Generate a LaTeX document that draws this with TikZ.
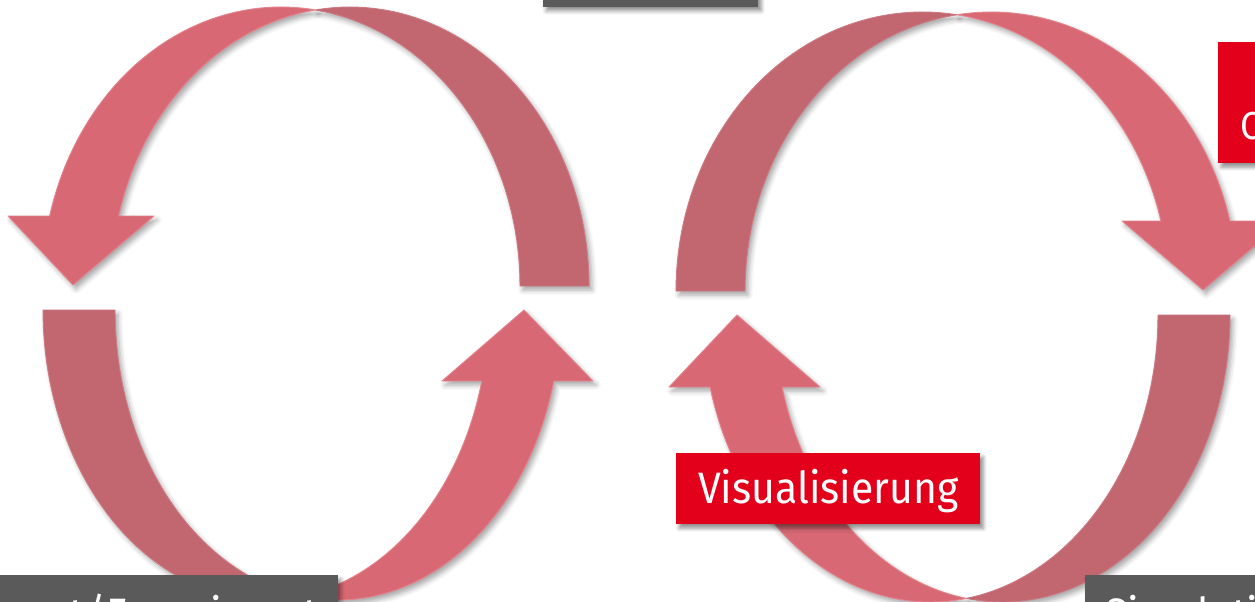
\documentclass[tikz,border=0pt]{standalone}
\usepackage{fontspec}
\setmainfont{Fira Sans}[FakeStretch=0.93]
\usetikzlibrary{shadows.blur}
\definecolor{arrowlight}{HTML}{D86874}
\definecolor{arrowlightedge}{HTML}{E3848E}
\definecolor{arrowdark}{HTML}{C26670}
\definecolor{arrowdarkedge}{HTML}{CD7A84}
\definecolor{boxred}{HTML}{E2001A}
\definecolor{boxgray}{HTML}{5A5A5A}
\begin{document}
\begin{tikzpicture}[x=1pt,y=-1pt,
  arrowshadow/.style={blur shadow={shadow xshift=3pt, shadow yshift=-4pt, shadow blur radius=5pt, shadow opacity=35}},
  lightface/.style={arrowshadow, fill=arrowlight, draw=arrowlightedge, line width=0.9pt, line join=round},
  darkface/.style={arrowshadow, fill=arrowdark, draw=arrowdarkedge, line width=0.9pt, line join=round},
  boxshadow/.style={blur shadow={shadow xshift=3pt, shadow yshift=-4pt, shadow blur radius=4pt, shadow opacity=45}},
  labeltext/.style={font=\fontsize{44pt}{50pt}\selectfont, text=white},
  redbox/.style={boxshadow, fill=boxred, draw=none, labeltext, text height=32pt, text depth=3pt, inner ysep=18pt, inner xsep=20pt},
  graybox/.style={boxshadow, fill=boxgray, draw=none, labeltext, text height=36pt, text depth=3pt, inner ysep=18pt, inner xsep=20pt}
]
\useasboundingbox (0,0) rectangle (1255,602);
\clip (0,0) rectangle (1255,602);

% ---------- left cycle, upper arrow (head on the left) ----------
\path[darkface] plot[domain=0:98.3,samples=50] ({350+239*cos(\x)},{286-279*sin(\x)})
  -- plot[domain=81.7:0,samples=50] ({281+239*cos(\x)},{286-279*sin(\x)}) -- cycle;
\path[lightface] plot[domain=81.7:165.47,samples=50] ({281+239*cos(\x)},{286-279*sin(\x)})
  -- (8,216) -- (73,285) -- (154,216)
  -- plot[domain=165.47:98.3,samples=50] ({350+239*cos(\x)},{286-279*sin(\x)}) -- cycle;

% ---------- left cycle, lower arrow (head on the right) ----------
\path[darkface] plot[domain=180:80.7,samples=50] ({265.8+222.8*cos(\x)},{310+290*sin(\x)})
  -- plot[domain=99.3:180,samples=50] ({337.8+222.8*cos(\x)},{310+290*sin(\x)}) -- cycle;
\path[lightface] plot[domain=99.3:14.17,samples=50] ({337.8+222.8*cos(\x)},{310+290*sin(\x)})
  -- (593,381) -- (524,310) -- (442,381)
  -- plot[domain=14.17:80.7,samples=50] ({265.8+222.8*cos(\x)},{310+290*sin(\x)}) -- cycle;

% ---------- right cycle, upper arrow (head on the right) ----------
\path[darkface] plot[domain=180:81.95,samples=50] ({922.4+246.4*cos(\x)},{291-279*sin(\x)})
  -- plot[domain=98.05:180,samples=50] ({991.4+246.4*cos(\x)},{291-279*sin(\x)}) -- cycle;
\path[lightface] plot[domain=98.05:14.53,samples=50] ({991.4+246.4*cos(\x)},{291-279*sin(\x)})
  -- (1284,221) -- (1203,290) -- (1122,221)
  -- plot[domain=14.53:81.95,samples=50] ({922.4+246.4*cos(\x)},{291-279*sin(\x)}) -- cycle;

% ---------- right cycle, lower arrow (head on the left) ----------
\path[darkface] plot[domain=0:99.1,samples=50] ({1002.4+227.6*cos(\x)},{315+287*sin(\x)})
  -- plot[domain=80.9:0,samples=50] ({930.4+227.6*cos(\x)},{315+287*sin(\x)}) -- cycle;
\path[lightface] plot[domain=80.9:165.47,samples=50] ({930.4+227.6*cos(\x)},{315+287*sin(\x)})
  -- (669,387) -- (737,315) -- (820,387)
  -- plot[domain=165.47:99.1,samples=50] ({1002.4+227.6*cos(\x)},{315+287*sin(\x)}) -- cycle;

% ---------- labels ----------
\node[graybox, anchor=south west, minimum width=215pt, minimum height=71pt, text height=0pt, text depth=0pt] (theory) at (543,7) {};
\node[redbox, anchor=north west, minimum width=230pt, minimum height=121pt, text height=0pt, text depth=0pt] (cbox) at (1218,42) {};
\node[font=\fontsize{39pt}{46pt}\selectfont, text=white, anchor=base west, inner sep=0pt] (ctext) at (1240,139) {C};
\node[redbox, anchor=north west, minimum width=304pt] (vis) at (676,453) {Visualisierung};
\node[graybox, anchor=north east] (exp) at (338,575) {Konzept/Experiment};
\node[graybox, anchor=north west] (sim) at (1085,575) {Simulation};
\end{tikzpicture}
\end{document}
